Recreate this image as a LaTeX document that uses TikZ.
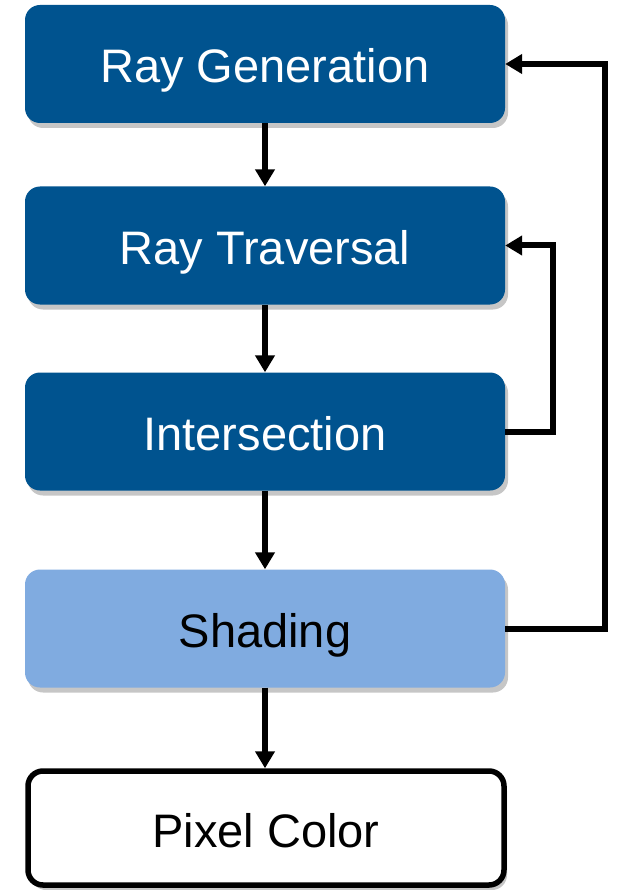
\documentclass[tikz,border=0pt]{standalone}
\usepackage{fontspec}
\setmainfont{Liberation Sans}
\usetikzlibrary{shadows,arrows.meta}
\definecolor{rayblue}{RGB}{0,83,143}
\definecolor{shadeblue}{RGB}{128,171,224}

\begin{document}
\begin{tikzpicture}[x=1pt,y=-1pt,
    stage/.style={rounded corners=15pt, minimum width=480pt, minimum height=118pt,
      fill=rayblue, text=white, font=\fontsize{47}{56}\selectfont,
      text height=40pt, text depth=2pt,
      drop shadow={shadow xshift=3pt, shadow yshift=-5pt, opacity=0.45}},
    flow/.style={line width=6pt, -{Triangle[length=17pt,width=19pt]}}]
				\useasboundingbox (0,0) rectangle (617,890);
				\node [stage] (gen) at(265,64) {Ray Generation};
				\node [stage] (trav) at(265,245.5) {Ray Traversal};
				\node [stage] (inter) at(265,431.5) {Intersection};
				\node [stage, fill = shadeblue, text = black] (shade) at(265,628.5) {Shading};
				\node [stage, fill = white, text = black, draw = black, line width = 5.5pt,
				  minimum width = 476pt, minimum height = 114pt] (pix) at(266,828) {Pixel Color};
				%
				\draw [flow] (gen) -- (trav);
				\draw [flow] (trav) -- (inter);
				\draw [flow] (inter) -- (shade);
				\draw [flow] (shade.south) -- (shade.south |- pix.north);
				%
				\draw [flow] (inter.east) -- ++(48,0) |- (trav.east);
				\draw [flow] (shade.east) -- ++(100,0) |- (gen.east);
			\end{tikzpicture}
\end{document}
